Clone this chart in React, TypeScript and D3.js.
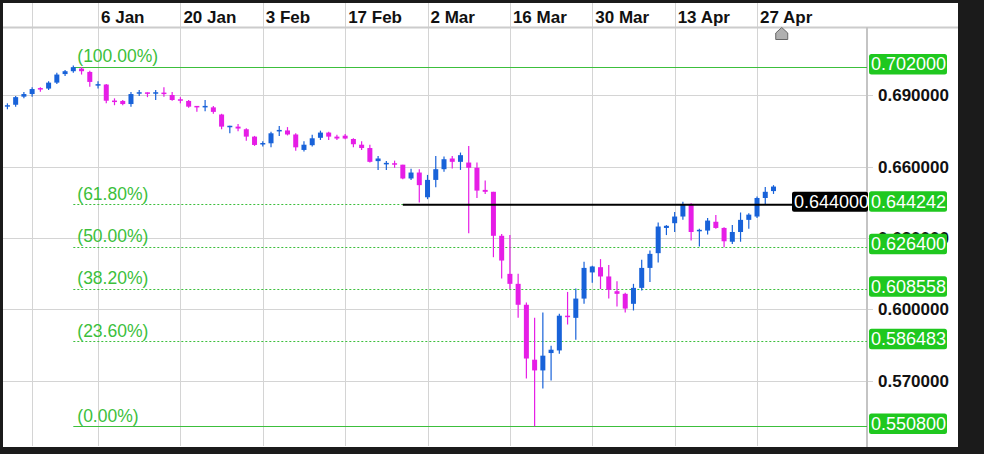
import React from "react";
import * as d3 from "d3";

// Candles, one per trading day (18 Dec 2019 … 29 Apr 2020)
const openP = [
  0.6852, 0.686, 0.6894, 0.6905, 0.6929, 0.6928, 0.6953, 0.6989, 0.7001, 0.7012,
  0.6998, 0.6942, 0.6945, 0.6877, 0.6876, 0.6863, 0.6908, 0.6911, 0.6908, 0.6911,
  0.6901, 0.6883, 0.6876, 0.6855, 0.6849, 0.6849, 0.6819, 0.6766, 0.6768, 0.6757,
  0.6726, 0.6694, 0.6698, 0.6749, 0.6752, 0.6735, 0.667, 0.669, 0.6721, 0.6743,
  0.6726, 0.673, 0.6716, 0.6692, 0.6678, 0.6623, 0.6611, 0.6614, 0.6608, 0.655,
  0.6575, 0.6471, 0.6544, 0.6589, 0.6634, 0.662, 0.6617, 0.6595, 0.6502, 0.6494,
  0.6309, 0.6149, 0.6107, 0.6019, 0.5788, 0.5743, 0.5816, 0.5827, 0.5973, 0.5964,
  0.6045, 0.6155, 0.6177, 0.6138, 0.6076, 0.6065, 0.6023, 0.609, 0.6174, 0.6236,
  0.6342, 0.6362, 0.639, 0.6443, 0.6328, 0.6331, 0.6368, 0.6342, 0.6284, 0.6325,
  0.6376, 0.639, 0.6468, 0.6497,
];
const closeP = [
  0.6858, 0.6892, 0.6905, 0.6926, 0.6925, 0.6953, 0.6987, 0.7001, 0.7018, 0.7001,
  0.6956, 0.6945, 0.6877, 0.6872, 0.6863, 0.6905, 0.6911, 0.6907, 0.6911, 0.6905,
  0.688, 0.6877, 0.6852, 0.6849, 0.6855, 0.683, 0.6768, 0.6771, 0.676, 0.6726,
  0.6691, 0.6698, 0.674, 0.6753, 0.6735, 0.6681, 0.6692, 0.6719, 0.6743, 0.6726,
  0.6718, 0.6718, 0.6694, 0.6678, 0.662, 0.6634, 0.6614, 0.6608, 0.655, 0.6575,
  0.6522, 0.6544, 0.6589, 0.6631, 0.662, 0.6648, 0.6595, 0.6499, 0.6494, 0.6309,
  0.6205, 0.6107, 0.6019, 0.5793, 0.5743, 0.5805, 0.583, 0.5973, 0.5967, 0.6045,
  0.6174, 0.618, 0.6138, 0.6082, 0.6065, 0.6003, 0.609, 0.6174, 0.6233, 0.6348,
  0.6351, 0.639, 0.644, 0.6325, 0.6334, 0.6373, 0.6342, 0.6286, 0.6325, 0.6376,
  0.6398, 0.6468, 0.6494, 0.6516,
];
const highP = [
  0.6866, 0.6897, 0.6914, 0.6934, 0.6934, 0.6959, 0.6995, 0.7006, 0.7025, 0.7018,
  0.7003, 0.6959, 0.6947, 0.6887, 0.688, 0.6914, 0.6922, 0.6912, 0.6922, 0.6934,
  0.6914, 0.6892, 0.688, 0.6855, 0.688, 0.6855, 0.6822, 0.6772, 0.6779, 0.6761,
  0.6729, 0.6707, 0.6747, 0.6771, 0.6766, 0.674, 0.6707, 0.6734, 0.6751, 0.6746,
  0.6734, 0.6737, 0.6719, 0.6707, 0.6692, 0.6645, 0.6623, 0.6625, 0.6608, 0.6591,
  0.6589, 0.6565, 0.6645, 0.6642, 0.6645, 0.6659, 0.6687, 0.6617, 0.6541, 0.6494,
  0.6317, 0.6312, 0.6149, 0.6029, 0.5964, 0.5987, 0.5847, 0.5981, 0.6073, 0.6087,
  0.62, 0.6183, 0.6211, 0.6186, 0.6118, 0.607, 0.6107, 0.6208, 0.6247, 0.6365,
  0.6354, 0.6409, 0.6452, 0.6446, 0.6339, 0.6384, 0.6396, 0.6345, 0.6354, 0.6407,
  0.6404, 0.6474, 0.6514, 0.6522,
];
const lowP = [
  0.6841, 0.6852, 0.6887, 0.6894, 0.6915, 0.6922, 0.6947, 0.6981, 0.6995, 0.6987,
  0.6936, 0.6928, 0.6866, 0.6858, 0.6858, 0.6852, 0.6897, 0.6892, 0.688, 0.6894,
  0.6877, 0.6866, 0.6847, 0.6831, 0.6833, 0.6822, 0.6757, 0.674, 0.6749, 0.6709,
  0.6687, 0.6684, 0.6681, 0.6729, 0.6731, 0.6667, 0.6663, 0.6684, 0.6712, 0.6712,
  0.6712, 0.6715, 0.6681, 0.667, 0.6617, 0.6586, 0.6586, 0.6595, 0.6547, 0.6544,
  0.6449, 0.6463, 0.6513, 0.6578, 0.6592, 0.6586, 0.632, 0.6468, 0.6485, 0.6219,
  0.6129, 0.6085, 0.5964, 0.5709, 0.5508, 0.5667, 0.5701, 0.5813, 0.5936, 0.5872,
  0.6023, 0.6112, 0.6085, 0.6045, 0.6012, 0.5986, 0.5995, 0.6079, 0.6115, 0.6197,
  0.6312, 0.6325, 0.6376, 0.6289, 0.6264, 0.6314, 0.6339, 0.6261, 0.6275, 0.6284,
  0.6339, 0.6384, 0.6438, 0.6485,
];

// Date axis (candle index of each gridline)
const dateTickIndex = [3, 11, 21, 31, 41, 51, 61, 71, 81, 91];
const dateTickLabels = ["", "6 Jan", "20 Jan", "3 Feb", "17 Feb", "2 Mar", "16 Mar", "30 Mar", "13 Apr", "27 Apr"];

// Price axis
const priceTicks = [0.69, 0.66, 0.63, 0.6, 0.57];

// Fibonacci retracement
const fibLevels = [0.702, 0.644242, 0.6264, 0.608558, 0.586483, 0.5508];
const fibLabels = ["(100.00%)", "(61.80%)", "(50.00%)", "(38.20%)", "(23.60%)", "(0.00%)"];
const fibStartIndex = 8;

// Horizontal line
const hLineValue = 0.644;
const hLineStartIndex = 48;
const markerIndex = 94;

const FONT = "'Liberation Sans', Arial, Helvetica, sans-serif";
const UP = "#1862d9";
const DOWN = "#e61de6";
const GREEN_LINE = "#3cbf3c";
const GREEN_BOX = "#1fc81f";
const GRID = "#d4d4d4";

export default function App() {
  const W = 984;
  const H = 454;
  const plotRight = 867;
  const x = d3.scaleLinear().domain([-0.9, 104.35]).range([0, plotRight]);
  const y = d3.scaleLinear().domain([0.702, 0.5508]).range([66.7, 426.3]);
  const bodyW = 5;

  const candles = d3.range(openP.length).map((i) => ({
    i,
    o: openP[i],
    c: closeP[i],
    h: highP[i],
    l: lowP[i],
  }));

  const fmt = (v: number) => v.toFixed(6);
  const mx = x(markerIndex);

  return (
    <svg
      width={W}
      height={H}
      style={{ position: "absolute", left: 0, top: 0, display: "block" }}
      fontFamily={FONT}
    >
      <rect x={0} y={0} width={W} height={H} fill="#ffffff" />

      {/* vertical gridlines */}
      {dateTickIndex.map((t, k) => (
        <line key={"vg" + k} x1={Math.round(x(t)) + 0.5} x2={Math.round(x(t)) + 0.5} y1={3} y2={446} stroke={GRID} strokeWidth={1} />
      ))}
      {/* horizontal gridlines */}
      {priceTicks.map((p, k) => (
        <line key={"hg" + k} x1={3} x2={plotRight + 6} y1={Math.round(y(p)) + 0.5} y2={Math.round(y(p)) + 0.5} stroke={GRID} strokeWidth={1} />
      ))}

      {/* top axis separator */}
      <line x1={0} x2={958} y1={27.5} y2={27.5} stroke="#cccccc" strokeWidth={2} />
      {/* right axis line */}
      <line x1={plotRight} x2={plotRight} y1={27} y2={447} stroke="#c4c4c4" strokeWidth={2} />

      {/* date labels */}
      {dateTickIndex.map((t, k) =>
        dateTickLabels[k] ? (
          <text key={"dl" + k} x={x(t) + 3} y={22.5} fontSize={17} fontWeight="bold" fill="#111">
            {dateTickLabels[k]}
          </text>
        ) : null
      )}

      {/* price labels */}
      {priceTicks.map((p, k) => (
        <text key={"pl" + k} x={878} y={y(p) + 6} fontSize={17} fontWeight="bold" fill="#111">
          {fmt(p)}
        </text>
      ))}

      {/* fib lines */}
      {fibLevels.map((v, k) => {
        const solid = k === 0 || k === fibLevels.length - 1;
        const yy = Math.round(y(v)) + 0.5;
        return (
          <g key={"fib" + k}>
            <line
              x1={x(fibStartIndex)}
              x2={plotRight}
              y1={yy}
              y2={yy}
              stroke={GREEN_LINE}
              strokeWidth={1}
              strokeDasharray={solid ? undefined : "2,2"}
            />
            <text x={x(fibStartIndex) + 4} y={y(v) - 4.5} fontSize={17.5} fill={GREEN_LINE}>
              {fibLabels[k]}
            </text>
          </g>
        );
      })}

      {/* candles */}
      {candles.map((d) => {
        const cx = x(d.i);
        const up = d.c >= d.o;
        const col = up ? UP : DOWN;
        const top = y(Math.max(d.o, d.c));
        const bot = y(Math.min(d.o, d.c));
        const bh = Math.max(1.5, bot - top);
        return (
          <g key={"c" + d.i}>
            <line x1={cx} x2={cx} y1={y(d.h)} y2={y(d.l)} stroke={col} strokeWidth={1.2} />
            <rect x={cx - bodyW / 2} y={bh === 1.5 ? (top + bot) / 2 - 0.75 : top} width={bodyW} height={bh} fill={col} />
          </g>
        );
      })}

      {/* horizontal line 0.644 */}
      <line x1={x(hLineStartIndex)} x2={792} y1={y(hLineValue)} y2={y(hLineValue)} stroke="#000" strokeWidth={2} />
      <rect x={792} y={y(hLineValue) - 13} width={76} height={20} rx={2} fill="#000" />
      <text x={794} y={y(hLineValue) + 3.5} fontSize={18} fill="#fff">
        {fmt(hLineValue)}
      </text>

      {/* fib value boxes */}
      {fibLevels.map((v, k) => (
        <g key={"fb" + k}>
          <rect x={869} y={y(v) - 12.8} width={78} height={20.5} rx={2.5} fill={GREEN_BOX} />
          <text x={871} y={y(v) + 3.6} fontSize={18} fill="#fff">
            {fmt(v)}
          </text>
        </g>
      ))}

      {/* current-bar marker */}
      <path
        d={`M${mx},27.5 L${mx + 6},33 L${mx + 6},39.5 L${mx - 6},39.5 L${mx - 6},33 Z`}
        fill="#b0b0b0"
        stroke="#666"
        strokeWidth={1}
      />

      {/* window frame */}
      <rect x={0} y={0} width={W} height={3} fill="#1b1b1b" />
      <rect x={0} y={0} width={3} height={H} fill="#1b1b1b" />
      <rect x={0} y={447} width={W} height={H - 447} fill="#1b1b1b" />
      <rect x={958} y={0} width={W - 958} height={H} fill="#1b1b1b" />
    </svg>
  );
}
